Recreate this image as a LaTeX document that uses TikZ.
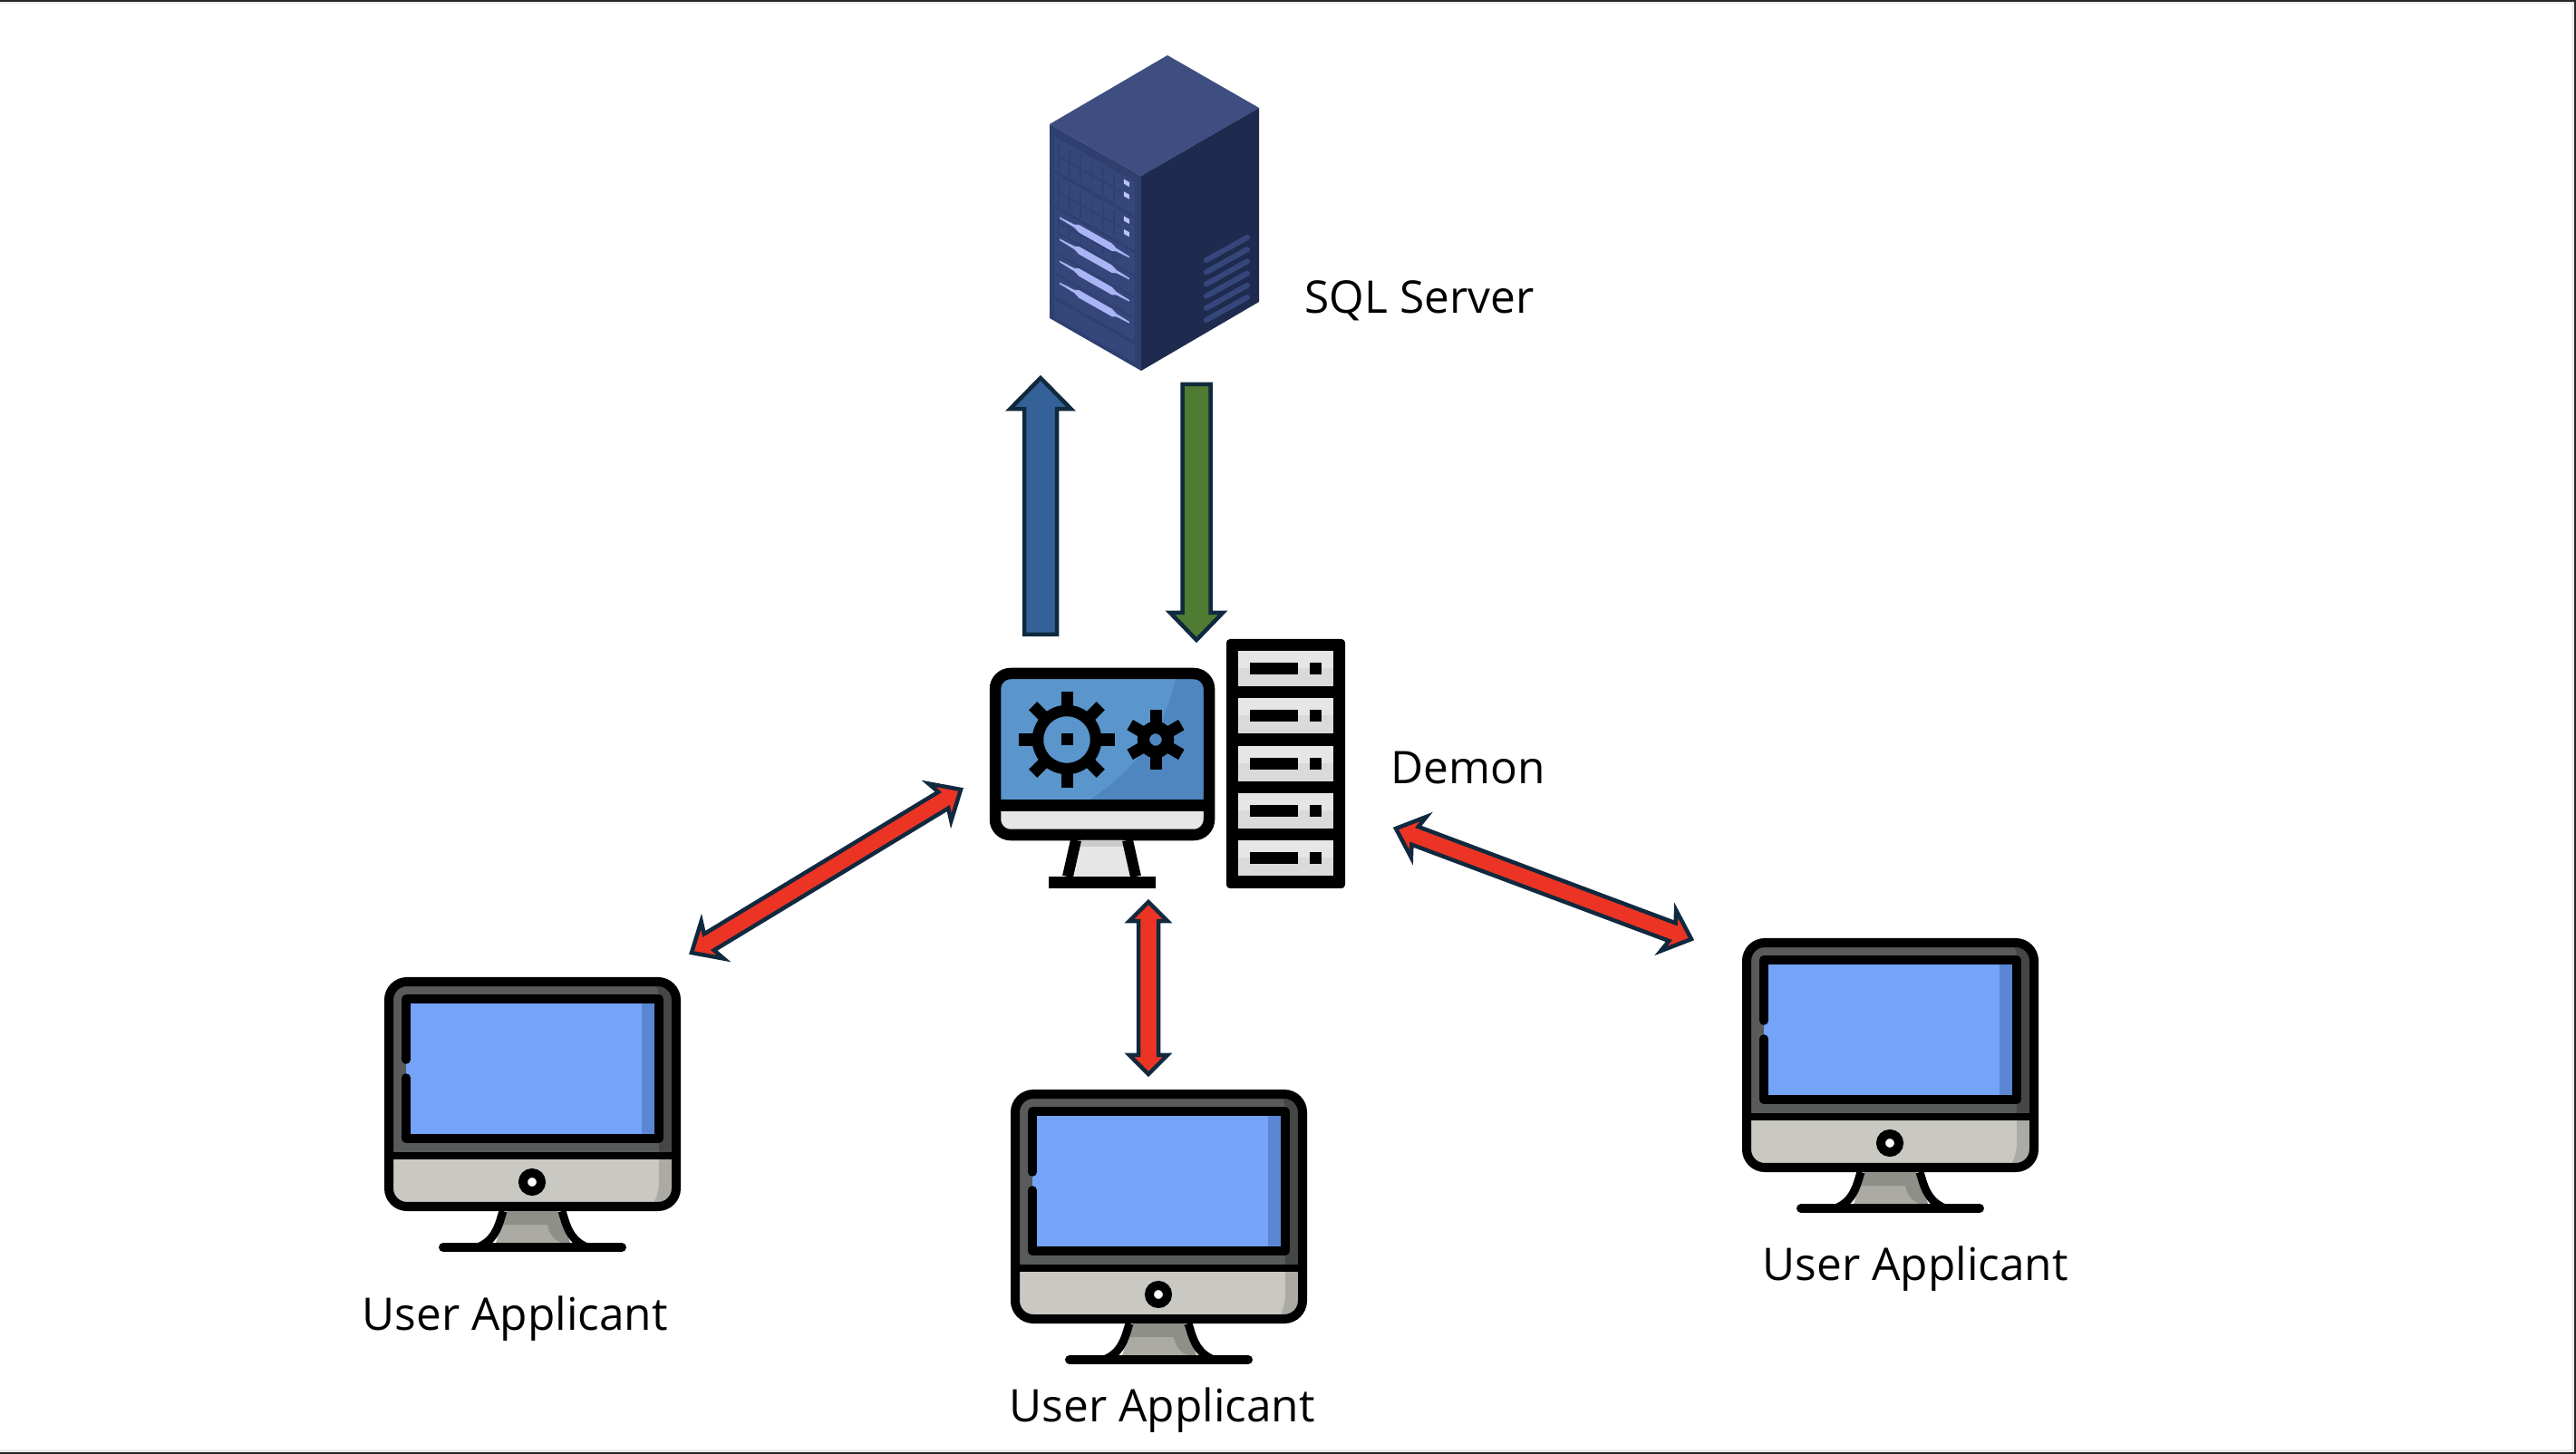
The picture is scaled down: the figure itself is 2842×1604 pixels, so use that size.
\documentclass[tikz,border=0pt]{standalone}
\usepackage{fontspec}
\setmainfont{Open Sans}
\usetikzlibrary{calc}

\definecolor{arrowline}{HTML}{10293F}
\definecolor{arrowred}{HTML}{EC3424}
\definecolor{arrowblue}{HTML}{346298}
\definecolor{arrowgreen}{HTML}{4F7C32}
\definecolor{srvtop}{HTML}{3E4E80}
\definecolor{srvright}{HTML}{1E2B4F}
\definecolor{srvfront}{HTML}{2E3F70}
\definecolor{srvpanel}{HTML}{35467A}
\definecolor{srvlight}{HTML}{A9B5F5}
\definecolor{gearblue}{HTML}{5A96CC}
\definecolor{geardark}{HTML}{5086BF}
\definecolor{slottop}{HTML}{E6E6E6}
\definecolor{slotlow}{HTML}{DADADA}
\definecolor{monbezel}{HTML}{585B59}
\definecolor{monbezeldark}{HTML}{454745}
\definecolor{monchin}{HTML}{C9C8C3}
\definecolor{monchindark}{HTML}{ABAAA4}
\definecolor{monscreen}{HTML}{74A3F8}
\definecolor{monscreendark}{HTML}{5A86D3}
\definecolor{monstand}{HTML}{8E8F88}

% one head, tail at #1 and tip at #2: head length, head half width, shaft half width, style
\newcommand{\onearrow}[6]{
	\draw[#6] ($(#1)!#5!90:(#2)$) -- ($(#2)!#3!(#1)!#5!-90:(#1)$) -- ($(#2)!#3!(#1)!#4!-90:(#1)$)
		-- (#2) -- ($(#2)!#3!(#1)!#4!90:(#1)$) -- ($(#2)!#3!(#1)!#5!90:(#1)$) -- ($(#1)!#5!-90:(#2)$) -- cycle;
}
% two heads: head length, notch distance, head half width, shaft half width
\newcommand{\twoarrow}[6]{
	\draw[redarrow] (#1) -- ($(#1)!#3!(#2)!#5!90:(#2)$) -- ($(#1)!#4!(#2)!#6!90:(#2)$)
		-- ($(#2)!#4!(#1)!#6!-90:(#1)$) -- ($(#2)!#3!(#1)!#5!-90:(#1)$)
		-- (#2) -- ($(#2)!#3!(#1)!#5!90:(#1)$) -- ($(#2)!#4!(#1)!#6!90:(#1)$)
		-- ($(#1)!#4!(#2)!#6!-90:(#2)$) -- ($(#1)!#3!(#2)!#5!-90:(#2)$) -- cycle;
}

\tikzset{
	label/.style={font=\fontsize{14.1pt}{16pt}\selectfont,inner sep=0pt,anchor=base west},
	redarrow/.style={draw=arrowline,fill=arrowred,line width=0.045cm,miter limit=10},
	bluearrow/.style={draw=arrowline,fill=arrowblue,line width=0.045cm,miter limit=10},
	greenarrow/.style={draw=arrowline,fill=arrowgreen,line width=0.045cm,miter limit=10},
	pics/usermon/.style={code={
		\begin{scope}
			\clip[rounded corners=0.2cm] (5,5) rectangle (322,253);
			\fill[monbezel] (5,5) rectangle (322,197);
			\fill[monbezeldark] (295,5) .. controls (300,8) and (303,13) .. (303,22) -- (303,197) -- (322,197) -- (322,5) -- cycle;
			\fill[monchin] (5,197) rectangle (322,253);
			\fill[monchindark] (303,197) -- (303,225) .. controls (303,236) and (300,245) .. (295,253) -- (322,253) -- (322,197) -- cycle;
		\end{scope}
		\draw[line width=0.1cm,rounded corners=0.2cm] (5,5) rectangle (322,253);
		\draw[line width=0.087cm] (5,197) -- (322,197);
		\fill[monscreen] (24,24) rectangle (303,178);
		\fill[monscreendark] (284,29) rectangle (298,173);
		\draw[line width=0.095cm,line cap=round,line join=round] (24,91) -- (24,24) -- (303,24) -- (303,178) -- (24,178) -- (24,111);
		\draw[fill=white,line width=0.1cm] (163,226) circle [radius=10];
		\fill[monchindark] (135,258) -- (123,293) -- (205,293) -- (192,258) -- cycle;
		\fill[monstand] (135,258) -- (192,258) -- (205,293) -- (195,293) .. controls (185,288) and (182,282) .. (180,273) -- (130,273) -- cycle;
		\draw[line width=0.09cm] (131,258) .. controls (127,270) and (124,290) .. (103,298);
		\draw[line width=0.09cm] (196,258) .. controls (200,270) and (203,290) .. (224,298);
		\draw[line width=0.1cm,line cap=round] (65,298) -- (262,298);
	}}
}

\begin{document}
\begin{tikzpicture}[x=0.01cm,y=-0.01cm]
	\useasboundingbox (0,0) rectangle (2842,1604);

	% frame of the slide
	\fill[gray!15] (0,1599) rectangle (2842,1602);
	\fill[gray!15] (2837,0) rectangle (2840,1602);
	\fill[gray!15] (0,2) rectangle (2840,4);
	\fill[black!85] (0,0) rectangle (2842,2);
	\fill[black!85] (2840,0) rectangle (2842,1604);
	\fill[black!85] (0,1602) rectangle (2842,1604);

	% sql server
	\fill[srvtop] (1288,61) -- (1389,119) -- (1259,194) -- (1158,137) -- cycle;
	\fill[srvright] (1259,194) -- (1389,119) -- (1389,333) -- (1259,409) -- cycle;
	\fill[srvfront] (1158,137) -- (1259,194) -- (1259,409) -- (1158,351) -- cycle;
	\foreach \i in {0,...,5}
		\draw[srvpanel,line width=0.06cm,line cap=round] (1331,{287+13.2*\i}) -- (1376,{262+13.2*\i});
	\begin{scope}[shift={(1158,137)},x={(1.01cm,-0.57cm)},y={(0cm,-2.14cm)}]
		\foreach \a/\b in {0.05/0.22,0.24/0.40,0.42/0.53,0.54/0.64,0.65/0.75,0.76/0.87,0.89/0.98}
			\fill[srvpanel] (0.05,\a) -- (0.93,\a) -- (0.93,\b) -- (0.05,\b) -- cycle;
		\foreach \a/\b in {0.07/0.21,0.26/0.39,0.44/0.52} {
			\foreach \u in {0.1,0.22,...,0.8}
				\draw[srvfront,line width=0.018cm] (\u,\a) -- (\u,\b);
			\draw[srvfront,line width=0.018cm] (0.1,{(\a+\b)/2}) -- (0.78,{(\a+\b)/2});
		}
		\foreach \v in {0.079,0.143,0.27,0.337}
			\fill[srvlight!80!white] (0.81,{\v-0.012}) -- (0.87,{\v-0.012}) -- (0.87,{\v+0.012}) -- (0.81,{\v+0.012}) -- cycle;
		\foreach \v in {0.453,0.565,0.678,0.79}
			\fill[srvlight] (0.11,{\v-0.004}) -- (0.27,{\v-0.008}) -- (0.32,{\v-0.02}) -- (0.68,{\v-0.02}) -- (0.73,{\v-0.008}) -- (0.87,{\v-0.004})
				-- (0.87,{\v+0.004}) -- (0.73,{\v+0.008}) -- (0.68,{\v+0.02}) -- (0.32,{\v+0.02}) -- (0.27,{\v+0.008}) -- (0.11,{\v+0.004}) -- cycle;
	\end{scope}
	\node[label] (sqllabel) at (1439,346) {SQL Server};

	% demon, monitor with the gears
	\begin{scope}
		\clip[rounded corners=0.17cm] (1098,743) rectangle (1334,921);
		\fill[gearblue] (1098,743) rectangle (1334,888);
		\fill[geardark] (1298,743) .. controls (1285,810) and (1250,850) .. (1203,882) -- (1334,882) -- (1334,743) -- cycle;
		\fill[slottop] (1098,888) rectangle (1334,921);
	\end{scope}
	\draw[line width=0.125cm,rounded corners=0.17cm] (1098,743) rectangle (1334,921);
	\fill (1098,882) rectangle (1334,895);
	\foreach \a in {0,45,...,315}
		\draw[line width=0.13cm] (1177,816) ++(\a:30) -- ++(\a:22.7);
	\draw[line width=0.125cm] (1177,816) circle [radius=32];
	\fill (1170.5,809.5) rectangle (1183.5,822.5);
	\foreach \a in {30,90,...,330}
		\draw[line width=0.13cm] (1275,816) ++(\a:16) -- ++(\a:16.7);
	\draw[line width=0.134cm] (1275,816) circle [radius=13.5];
	\fill[slottop] (1193,927) -- (1238,927) -- (1247,967) -- (1185,967) -- cycle;
	\fill[gray!40] (1193,927) -- (1238,927) -- (1240,934) -- (1191,934) -- cycle;
	\draw[line width=0.12cm] (1187,927) -- (1178,967);
	\draw[line width=0.12cm] (1244,927) -- (1253,967);
	\fill (1157,967) rectangle (1275,980);

	% demon, tower
	\fill[rounded corners=0.04cm] (1353,705) rectangle (1484,980);
	\foreach \i in {0,...,4} {
		\fill[slottop] (1366,{718+52.3*\i}) rectangle (1471,{757+52.3*\i});
		\fill[slotlow] (1366,{737+52.3*\i}) rectangle (1471,{757+52.3*\i});
		\fill (1379,{731+52.3*\i}) rectangle (1432,{744+52.3*\i});
		\fill (1445,{731+52.3*\i}) rectangle (1458,{744+52.3*\i});
	}
	\node[label] (demonlabel) at (1534,865) {Demon};

	% users
	\pic (leftuser) at (424,1078) {usermon};
	\pic (miduser) at (1115,1202) {usermon};
	\pic (rightuser) at (1922,1035) {usermon};
	\node[label] (leftlabel) at (399,1467) {User Applicant};
	\node[label] (midlabel) at (1113,1568) {User Applicant};
	\node[label] (rightlabel) at (1944,1412) {User Applicant};

	% connectors
	\coordinate (demonout) at (1148,700);
	\coordinate (sqlin) at (1148,417);
	\coordinate (sqlout) at (1320,424);
	\coordinate (demonin) at (1320,706);
	\coordinate (leftend) at (763,1051);
	\coordinate (demonleft) at (1060,871);
	\coordinate (demonbottom) at (1267,995);
	\coordinate (midend) at (1267,1185);
	\coordinate (demonright) at (1540,914);
	\coordinate (rightend) at (1866,1036);

	\onearrow{demonout}{sqlin}{0.34cm}{0.335cm}{0.18cm}{bluearrow}
	\onearrow{sqlout}{demonin}{0.3cm}{0.29cm}{0.155cm}{greenarrow}
	\twoarrow{leftend}{demonleft}{0.27cm}{0.225cm}{0.24cm}{0.105cm}
	\twoarrow{demonbottom}{midend}{0.21cm}{0.21cm}{0.21cm}{0.11cm}
	\twoarrow{demonright}{rightend}{0.27cm}{0.225cm}{0.24cm}{0.105cm}
\end{tikzpicture}
\end{document}
